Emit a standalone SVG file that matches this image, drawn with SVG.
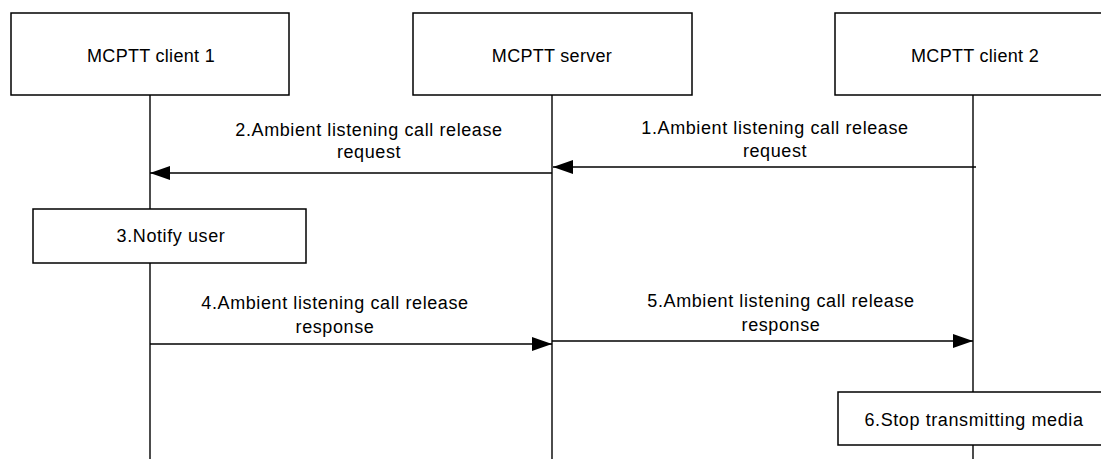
<svg xmlns="http://www.w3.org/2000/svg" width="1101" height="459" viewBox="0 0 1101 459">
<style>
.box{fill:#fff;stroke:#000;stroke-width:1.5}
.life{stroke:#000;stroke-width:1.4;fill:none}
.msg{stroke:#000;stroke-width:1.4;fill:none;marker-end:url(#ah)}
.hdr{font-family:"Liberation Sans",Arial,sans-serif;font-size:18px;letter-spacing:0.3px;text-anchor:middle;fill:#000}
.lbl{font-family:"Liberation Sans",Arial,sans-serif;font-size:18px;letter-spacing:0.6px;text-anchor:middle;fill:#000}
</style>
<defs>
<marker id="ah" markerUnits="userSpaceOnUse" markerWidth="20" markerHeight="14" refX="20" refY="7" orient="auto">
<path d="M0,0 L20,7 L0,14 z" fill="#000"/>
</marker>
</defs>
<rect width="1101" height="459" fill="#fff"/>
<g id="lifelines">
<line class="life" x1="150" y1="95" x2="150" y2="459"/>
<line class="life" x1="552" y1="95" x2="552" y2="459"/>
<line class="life" x1="973" y1="95" x2="973" y2="459"/>
</g>
<g id="client1">
<rect class="box" x="11" y="13" width="278" height="82"/>
<text class="hdr" x="151" y="62">MCPTT client 1</text>
</g>
<g id="server">
<rect class="box" x="413" y="13" width="279" height="82"/>
<text class="hdr" x="552" y="62">MCPTT server</text>
</g>
<g id="client2">
<rect class="box" x="835" y="13" width="276" height="82"/>
<text class="hdr" x="975" y="62">MCPTT client 2</text>
</g>
<g id="connectors">
<line class="msg" x1="976" y1="167" x2="553" y2="167"/>
<line class="msg" x1="552" y1="173" x2="150" y2="173"/>
<line class="msg" x1="150" y1="344" x2="552" y2="344"/>
<line class="msg" x1="552" y1="341" x2="973" y2="341"/>
</g>
<g id="labels">
<text class="lbl" x="775" y="134">1.Ambient listening call release</text>
<text class="lbl" x="775" y="157">request</text>
<text class="lbl" x="369" y="136">2.Ambient listening call release</text>
<text class="lbl" x="369" y="158">request</text>
<text class="lbl" x="335" y="309">4.Ambient listening call release</text>
<text class="lbl" x="335" y="333">response</text>
<text class="lbl" x="781" y="307">5.Ambient listening call release</text>
<text class="lbl" x="781" y="331">response</text>
</g>
<g id="notify">
<rect class="box" x="33" y="209" width="273" height="54"/>
<text class="lbl" x="171" y="242">3.Notify user</text>
</g>
<g id="stop">
<rect class="box" x="838" y="392" width="272" height="53"/>
<text class="lbl" x="974" y="426">6.Stop transmitting media</text>
</g>
</svg>
